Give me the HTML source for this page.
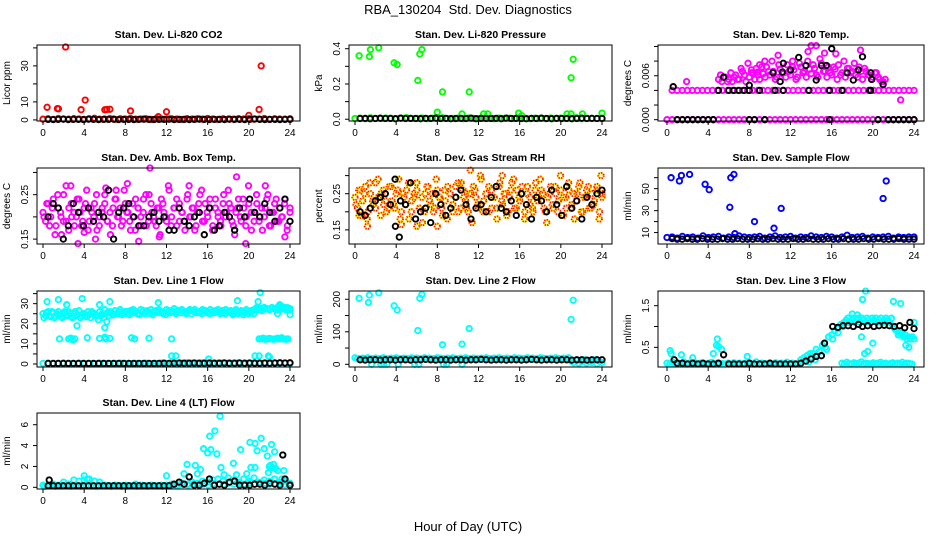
<!DOCTYPE html>
<html><head><meta charset="utf-8"><style>
html,body{margin:0;padding:0;background:#fff;}
svg{display:block;font-family:"Liberation Sans",sans-serif;}
.pt{fill:none;stroke-width:1.9;}
</style></head><body>
<svg id="chart" width="936" height="540" viewBox="0 0 936 540" xmlns="http://www.w3.org/2000/svg">
<text x="468" y="14" text-anchor="middle" font-size="13" style="white-space:pre" xml:space="preserve">RBA_130204  Std. Dev. Diagnostics</text>
<text x="468" y="531" text-anchor="middle" font-size="13">Hour of Day (UTC)</text>
</svg>
<script>
// ---- data ----
const xTicks = [0,4,8,12,16,20,24];
// P1 CO2
const co2Red = [0.4,0.6,0.3,0.8,0.5,0.4,0.7,0.5,0.3,0.6,0.9,0.4,0.5,0.7,0.3,0.6,0.5,0.8,0.4,0.5,0.6,0.3,0.7,0.5,0.4,0.6,0.5,0.3,0.7,0.5,0.6,0.4,0.8,0.5,0.3,0.6,0.5,0.4,0.7,0.5,0.6,0.4,0.5,0.8,0.3,0.6,0.5,0.4,0.6];
const co2Black = [0.3,0.2,0.3,0.4,0.2,0.3,0.3,0.2,0.4,0.3,0.2,0.3,0.3,0.4,0.2,0.3,0.3,0.2,0.3,0.4,0.3,0.2,0.3,0.3,0.4,0.2,0.3,0.3,0.2,0.3,0.4,0.3,0.2,0.3,0.3,0.2,0.4,0.3,0.3,0.2,0.3,0.5,0.3,0.2,0.3,0.3,0.2,0.3,0.3];
const co2OutH = [0.4,1.4,1.5,2.2,3.7,4.1,6.0,6.2,6.5,8.5,11.2,12.0,20.0,21.0,21.2];
const co2OutV = [7,6.3,6.2,40.5,5.7,11,5.6,5.8,5.9,5,1.8,4.5,2.5,5.8,30];
// P2 Pressure
const presGreen = [0.004,0.006,0.003,0.008,0.005,0.004,0.007,0.005,0.003,0.006,0.009,0.004,0.005,0.007,0.003,0.006,0.005,0.008,0.004,0.005,0.006,0.003,0.007,0.005,0.004,0.006,0.005,0.003,0.007,0.005,0.006,0.004,0.008,0.005,0.003,0.006,0.005,0.004,0.007,0.005,0.006,0.004,0.005,0.008,0.003,0.006,0.005,0.004,0.006];
const presBlack = [0.004,0.005,0.003,0.004,0.006,0.004,0.005,0.003,0.006,0.004,0.005,0.004,0.003,0.005,0.004,0.006,0.004,0.005,0.003,0.004,0.005,0.004,0.006,0.003,0.005,0.004,0.004,0.005,0.003,0.006,0.004,0.005,0.004,0.003,0.005,0.004,0.006,0.004,0.003,0.005,0.004,0.005,0.003,0.004,0.006,0.004,0.005,0.004,0.004];
const presOutH = [0.4,1.4,1.5,2.3,3.8,4.1,6.1,6.3,6.5,8.5,11.1,8.0,10.4,12.5,12.9,15.9,16.2,20.6,21.0,21.2,21.0,22.1,24.0];
const presOutV = [0.36,0.355,0.395,0.405,0.32,0.31,0.22,0.37,0.395,0.155,0.155,0.04,0.03,0.03,0.03,0.035,0.02,0.03,0.235,0.34,0.03,0.03,0.035];
// P3 Li-820 Temp
const tempMagZero = [0,0,0,0,0,0,0,0,0,0,0,0,0,0,0,0,0,0,0,0,0,0,0,0,0,0,0,0,0,0,0,0,0,0,0,0,0,0,0,0,0,0,0,0,0,0,0,0,0];
const tempMagMid = [0.004,0.004,0.004,0.004,0.004,0.004,0.004,0.004,0.004,0.004,0.004,0.004,0.004,0.004,0.004,0.004,0.004,0.004,0.004,0.004,0.004,0.004,0.004,0.004,0.004,0.004,0.004,0.004,0.004,0.004,0.004,0.004,0.004,0.004,0.004,0.004,0.004,0.004,0.004,0.004,0.004,0.004,0.004,0.004,0.004,0.004,0.004,0.004,0.004];
const tempMagCloudA = [0.0055,0.0052,0.0058,0.0055,0.0052,0.0061,0.0055,0.0066,0.0052,0.0058,0.0064,0.0070,0.0055,0.0063,0.0072,0.0061,0.0066,0.0058,0.0069,0.0064,0.0075,0.0061,0.0068,0.0058,0.0072,0.0066,0.0080,0.0063,0.0070,0.0058,0.0077,0.0066,0.0072,0.0061,0.0069,0.0075,0.0064,0.0058,0.0070,0.0066,0.0061,0.0072,0.0055,0.0066,0.0061,0.0058,0.0064,0.0055,0.0052];
const tempMagCloudB = [0.0061,0.0058,0.0052,0.0064,0.0058,0.0055,0.0070,0.0061,0.0077,0.0064,0.0055,0.0061,0.0072,0.0058,0.0066,0.0080,0.0055,0.0075,0.0063,0.0058,0.0066,0.0072,0.0055,0.0077,0.0064,0.0058,0.0069,0.0075,0.0061,0.0083,0.0066,0.0058,0.0064,0.0072,0.0055,0.0061,0.0080,0.0070,0.0064,0.0077,0.0058,0.0066,0.0070,0.0061,0.0055,0.0064,0.0058,0.0052,0.0055];
const tempMagOutH = [1.9,8.2,9.0,9.5,10.8,13.7,14.0,14.5,15.3,18.8,22.7,8.8,12.2,16.4];
const tempMagOutV = [0.0052,0.0068,0.0075,0.0080,0.0088,0.0093,0.0101,0.0101,0.0091,0.0095,0.0027,0.0065,0.0080,0.0090];
const tempBlackH = [1,1.5,2,2.5,3,3.5,4,4.5,8,8.5,9.5,15.8,20.5,21.5,22,22.5,23,23.5,24, 5,6,6.5,7,7.5,8,9,10.5,11.3,13.8,15.8,17,19.7,19.8, 0.6,5.5,8,10.3,11,11.3,11.2,12,12.8,13.5,14.5,15,15.5,16,17.5,18.1,18.6,19,19.8,19.9,21];
const tempBlackV = [0,0,0,0,0,0,0,0,0,0,0,0,0,0,0,0,0,0,0, 0.004,0.004,0.004,0.004,0.004,0.004,0.004,0.004,0.004,0.004,0.004,0.004,0.004,0.004, 0.0045,0.0058,0.0047,0.0064,0.0052,0.0077,0.0065,0.0068,0.0085,0.0074,0.0054,0.0074,0.0074,0.0097,0.0064,0.0054,0.0068,0.0086,0.0064,0.0055,0.0048];
// P4 Amb box temp
const ambMagA = [0.21,0.19,0.23,0.20,0.24,0.18,0.22,0.20,0.25,0.19,0.17,0.23,0.21,0.20,0.24,0.18,0.22,0.26,0.19,0.21,0.23,0.17,0.20,0.22,0.25,0.19,0.21,0.18,0.24,0.20,0.22,0.19,0.23,0.21,0.17,0.20,0.24,0.22,0.18,0.21,0.25,0.19,0.23,0.20,0.18,0.22,0.24,0.21,0.19,0.26,0.20,0.22,0.18,0.23,0.21,0.19,0.24,0.20,0.22,0.17,0.21,0.25,0.19,0.23,0.20,0.22,0.18,0.24,0.21,0.19,0.23,0.20,0.26,0.22,0.18,0.21,0.24,0.19,0.22,0.20,0.23,0.17,0.21,0.25,0.19,0.22,0.20,0.24,0.18,0.21,0.23,0.19,0.22,0.20,0.24,0.18,0.21];
const ambMagB = [0.20,0.23,0.18,0.22,0.16,0.25,0.21,0.19,0.27,0.22,0.20,0.18,0.24,0.21,0.19,0.23,0.17,0.22,0.20,0.25,0.18,0.21,0.23,0.19,0.16,0.22,0.24,0.20,0.18,0.26,0.21,0.19,0.23,0.17,0.22,0.20,0.24,0.18,0.25,0.21,0.19,0.22,0.16,0.23,0.20,0.27,0.18,0.22,0.24,0.19,0.21,0.17,0.25,0.20,0.22,0.18,0.23,0.26,0.19,0.21,0.24,0.17,0.22,0.20,0.18,0.25,0.21,0.23,0.19,0.16,0.22,0.20,0.24,0.18,0.27,0.21,0.19,0.23,0.20,0.17,0.22,0.25,0.18,0.21,0.24,0.19,0.20,0.23,0.17,0.22];
const ambMagOutH = [10.4,2.7,5.1,9.3,18.8,21.6,3.4,19.7,6.1,7.1,8.2,11.3,23.5,14.2,1.8,4.0];
const ambMagOutV = [0.31,0.27,0.15,0.145,0.29,0.27,0.14,0.14,0.265,0.26,0.275,0.155,0.155,0.27,0.16,0.165];
const ambBlack = [0.20,0.23,0.22,0.15,0.18,0.23,0.21,0.18,0.22,0.19,0.21,0.20,0.26,0.15,0.21,0.22,0.23,0.20,0.18,0.18,0.20,0.21,0.19,0.20,0.17,0.17,0.22,0.19,0.18,0.20,0.21,0.16,0.22,0.17,0.18,0.21,0.20,0.17,0.22,0.20,0.24,0.21,0.20,0.23,0.21,0.19,0.22,0.24,0.19];
// P5 RH
const rhA = [0.24,0.21,0.26,0.23,0.27,0.20,0.25,0.22,0.28,0.24,0.19,0.26,0.23,0.21,0.27,0.22,0.25,0.29,0.20,0.24,0.26,0.18,0.23,0.25,0.28,0.21,0.24,0.20,0.27,0.23,0.25,0.21,0.26,0.24,0.19,0.23,0.27,0.25,0.20,0.24,0.28,0.21,0.26,0.23,0.20,0.25,0.27,0.24,0.21,0.29,0.23,0.25,0.20,0.26,0.24,0.21,0.27,0.23,0.25,0.19,0.24,0.28,0.21,0.26,0.23,0.25,0.20,0.27,0.24,0.21,0.26,0.23,0.29,0.25,0.20,0.24,0.27,0.21,0.25,0.23,0.26,0.19,0.24,0.28,0.21,0.25,0.23,0.27,0.20,0.24,0.26,0.21,0.25,0.23,0.27,0.20,0.24];
const rhB = [0.22,0.26,0.19,0.25,0.18,0.28,0.23,0.21,0.29,0.25,0.22,0.20,0.27,0.23,0.21,0.26,0.18,0.25,0.22,0.28,0.20,0.24,0.26,0.21,0.17,0.25,0.27,0.22,0.20,0.29,0.24,0.21,0.26,0.18,0.25,0.22,0.27,0.20,0.28,0.24,0.21,0.25,0.17,0.26,0.22,0.30,0.20,0.25,0.27,0.21,0.24,0.18,0.28,0.22,0.25,0.20,0.26,0.29,0.21,0.24,0.27,0.18,0.25,0.22,0.20,0.28,0.24,0.26,0.21,0.17,0.25,0.22,0.27,0.20,0.30,0.24,0.21,0.26,0.22,0.18,0.25,0.28,0.20,0.24,0.27,0.21,0.22,0.26,0.18,0.25];
const rhOutH = [11.2,14.3,0.4,8.0,6.0,4.5,23.9,1.2];
const rhOutV = [0.315,0.30,0.19,0.16,0.16,0.165,0.30,0.16];
const rhBlack = [0.20,0.19,0.21,0.23,0.24,0.25,0.22,0.16,0.23,0.22,0.28,0.18,0.20,0.21,0.17,0.25,0.22,0.19,0.21,0.24,0.26,0.22,0.18,0.21,0.22,0.20,0.24,0.27,0.21,0.20,0.23,0.19,0.25,0.22,0.18,0.24,0.23,0.20,0.26,0.22,0.19,0.27,0.21,0.23,0.18,0.24,0.22,0.25,0.26];
const rhBlackOutH = [4.3,3.9];
const rhBlackOutV = [0.13,0.29];
// P6 Sample flow
const flowBlue = [5.5,6,5,6.5,5.5,6,5,7,5.5,6,6.5,5,6,5.5,7,6,5.5,6,6.5,5,6,7,5.5,6,6.5,5,6,5.5,7,6,5.5,6.5,6,5,6,7.5,5.5,6,6.5,5,6,5.5,6,6.5,5,6,5.5,6,6];
const flowBlack = [4.5,4,4,4.5,4,4,4.5,4,4,4,4.5,4,4,4.5,4,4,4,4.5,4,4,4.5,4,4,4,4.5,4,4,4.5,4,4,4,4.5,4,4,4.5,4,4,4,4.5,4,4,4.5,4,4,4,4.5,4,4,4];
const flowOutH = [0.4,1.2,1.4,2.2,3.7,4.1,6.1,6.2,6.5,6.6,8.5,10.4,11.1,21.0,21.3];
const flowOutV = [60,57,62,63,54,49,33,60,63,9,20,14,32,41,57];
// P7 Line 1
const l1A = [25,24,26,23.5,25.5,24,26,23.5,25,24.5,26,23.5,25,24,26.5,24,25,23.5,24.5,26,25,24,26,25,27,25.5,26,24.5,26.5,25,27,25.5,26,25,26.5,27,26,25,27,26.5,26,25.5,27,26,26.5,27,26,25.5,27,26.5,26,27.5,26,26.5,27,26,25.5,27,26.5,27,26,25.5,27,26.5,26,27,25.5,26.5,27,26,25.5,27,26,26.5,25,27,26,26.5,25.5,27,26,25.5,27,28,27,26.5,28,27.5,27,28,27.5,27,28.5,27.5,28,27,27.5];
const l1B = [23,25.5,24,26,23,25,24.5,23,26,24,25,23,26,24.5,23,25,24,26,23,25,24,22,24,23,25,24,25.5,24.5,25,26,24.5,25,26,24.5,25.5,26,25,24.5,26,25,26.5,25,24.5,26,25.5,26,25,24.5,26,25.5,26,25,26.5,25.5,26,25,26.5,25,26,25.5,26,25,26.5,25.5,25,26,25.5,26,25,26.5,25,26,25.5,24.5,26,25,25.5,24.5,26,25,26.5,25,27,28,27,28,27.5,27,28,27.5,28,27,28.5,27.5,28,27];
const l1CyanBase = [0.3,0.4,0.2,0.3,0.5,0.3,0.2,0.4,0.3,0.3,0.2,0.4,0.3,0.2,0.3,0.4,0.3,0.2,0.3,0.3,0.4,0.2,0.3,0.5,0.3,0.8,0.3,0.4,0.6,0.5,0.4,0.6,0.5,0.4,0.5,0.6,0.4,0.5,0.6,0.4,0.5,0.6,0.5,0.4,0.5,0.6,0.4,0.5,0.3];
const l1Black = [0.3,0.3,0.3,0.3,0.3,0.3,0.3,0.3,0.3,0.3,0.3,0.3,0.3,0.3,0.3,0.3,0.3,0.3,0.3,0.3,0.3,0.3,0.3,0.4,0.3,0.4,0.5,0.4,0.4,0.5,0.4,0.4,0.5,0.4,0.4,0.5,0.4,0.4,0.5,0.4,0.5,0.4,0.4,0.5,0.4,0.5,0.6,0.5,0.6];
const l1MidH = [1.6,2.5,2.7,2.9,3.1,4.3,5.5,6.0,6.1,6.5,8.6,8.9,10.3,12.5,21.0,21.2,21.4,21.6,21.8,22.0,22.2,22.4,22.6,22.8,23.0,23.2,23.4,23.6,23.8];
const l1MidV = [12.5,12.5,12.8,12,12.5,13,12.7,13.3,12.5,12.7,13,12.5,12.8,12.5,12.5,12.5,12.8,12.3,12.5,12.7,12.5,12.3,12.5,12.8,12.5,13,12.5,12.3,12.5];
const l1OutH = [0.4,1.5,2.3,3.3,3.8,5.5,6.0,6.2,6.5,11.2,18.9,20.9,21.1,12.5,12.9,16.1,20.6,21.0,21.9,22.0,22.8,23.0,23.6,24.0];
const l1OutV = [31,32,29.5,19,32.5,29.5,18,21,31,30.5,31.5,31,35.5,4,4,2.5,4,4,4,3.5,25,29.5,27,24.5];
// P8 Line 2
const l2Cyan = [20,18,17,19,18,20,17,18,19,17,18,20,18,17,19,18,20,17,18,19,18,17,20,18,19,17,18,20,18,19,17,18,20,19,18,17,19,18,20,18,17,19,18,20,17,18,19,18,17,19,18,20,18,17,19,18,20,17,18,19,18,17,20,18,19,17,18,20,18,19,17,18,20,19,18,17,19,18,20,18,17,19,18,20,10,5,12,3,8,14,4,10,6,13,2,9,5];
const l2Black = [14,13,14,14,13,14,14,13,14,14,13,14,14,15,14,13,14,14,13,14,14,13,14,14,15,14,13,14,14,13,14,14,13,14,15,14,13,14,14,13,14,14,13,14,14,13,14,14,14];
const l2OutH = [0.4,1.3,1.4,2.3,3.8,4.1,6.1,6.3,6.5,8.5,10.4,11.1,21.0,21.2,1.6,2.5,2.8,3.1,4.2,5.8,6.2,8.6,8.9,10.4];
const l2OutV = [203,190,213,220,180,167,104,203,215,60,62,110,138,197,0,0,0,0,0,0,0,0,0,0];
// P9 Line 3
const l3CyanLow = [0.12,0.1,0.14,0.1,0.12,0.1,0.15,0.1,0.12,0.1,0.13,0.1,0.12,0.1,0.1,0.12,0.14,0.1,0.12,0.1,0.11,0.1,0.12,0.1,0.13,0.1,0.12,0.1,0.11,0.1,0.12,0.1,0.15,0.1,0.12,0.11,0.1,0.12,0.1,0.13,0.1,0.12,0.1,0.14,0.1,0.12,0.1,0.11,0.12];
const l3CyanRiseH = [13.0,13.3,13.6,13.9,14.2,14.5,14.8,15.1,15.4,15.7,16.0,16.3,16.6,16.9,17.2,17.5,13.8,14.4,15.0,15.5,16.1,16.6,17.1];
const l3CyanRiseV = [0.2,0.25,0.3,0.35,0.35,0.45,0.4,0.55,0.5,0.75,0.8,0.9,0.95,1.05,1.1,1.1,0.15,0.2,0.3,0.45,0.7,0.85,1.0];
const l3CyanHigh = [1.15,1.2,1.1,1.15,1.2,1.1,1.15,1.2,1.1,1.2,1.15,1.1,1.2,1.15,1.1,1.2,1.15,1.2,1.1,1.15,1.2,1.1,1.15,1.2,1.15,1.1,1.2,1.0,0.95,0.9,0.8,0.85,0.8,0.75,0.8,0.7,0.75,0.7,0.75,0.7];
const l3CyanHighLow = [0.12,0.1,0.14,0.11,0.1,0.13,0.1,0.12,0.15,0.1,0.12,0.11,0.1,0.13,0.1,0.12,0.14,0.1,0.12,0.1,0.11,0.13,0.1,0.12,0.1,0.14,0.1,0.12,0.11,0.1];
const l3OutH = [0.3,0.4,1.4,2.5,4.5,4.8,4.9,5.0,5.3,7.8,18.0,18.5,19.0,19.3,18.9,19.2,19.5,20.0,22.0,22.7,22.5,23.2,23.5,24.0];
const l3OutV = [0.42,0.35,0.32,0.25,0.35,0.55,0.7,0.52,0.45,0.28,1.3,1.28,1.65,1.85,0.75,0.35,0.4,0.6,1.6,1.55,0.8,0.55,0.5,1.1];
const l3BlackH = [0.7,1,1.5,2,2.5,3,3.5,4,4.5,5,5.5,6,6.5,7,7.5,8,8.5,9,9.5,10,10.5,11,11.5,12,12.5,13,13.5,14,14.5,15,15.3,16.1,16.6,17.1,17.6,18.1,18.6,19,19.5,20.1,20.6,21.1,21.6,22.1,22.6,23.1,23.6,24];
const l3BlackV = [0.2,0.12,0.12,0.1,0.12,0.1,0.12,0.1,0.1,0.12,0.32,0.1,0.1,0.1,0.1,0.12,0.1,0.1,0.1,0.12,0.1,0.1,0.1,0.1,0.1,0.12,0.17,0.22,0.28,0.3,0.6,1.0,0.98,1.02,1.02,1.0,1.05,1.0,1.02,1.0,1.02,1.03,1.02,1.0,1.02,0.97,1.1,0.95];
// P10 Line 4
const l4Cyan = [0.2,0.15,0.3,0.2,0.5,0.3,0.7,0.6,0.7,0.8,0.6,0.5,0.2,0.15,0.2,0.15,0.2,0.15,0.3,0.2,0.15,0.2,0.15,0.2,0.2,0.3,0.25,0.4,0.3,0.5,0.4,0.6,0.5,0.7,0.8,0.6,0.9,0.7,0.5,0.8,0.6,0.9,0.5,0.7,0.6,0.8,0.5,0.6,0.4];
const l4CyanB = [0.1,0.15,0.1,0.12,0.15,0.1,0.12,0.1,0.15,0.12,0.1,0.15,0.12,0.1,0.15,0.1,0.12,0.15,0.1,0.12,0.1,0.15,0.12,0.1,0.15,0.2,0.15,0.25,0.2,0.3,0.25,0.3,0.2,0.35,0.3,0.25,0.4,0.3,0.35,0.3,0.4,0.3,0.35,0.4,0.3,0.35,0.3,0.25,0.2];
const l4OutH = [4.0,4.3,12.0,14.0,13.7,14.8,15.0,15.3,15.6,16.0,16.2,16.3,16.7,16.9,17.2,17.3,17.6,18.5,18.8,19.2,19.8,20.1,20.2,20.6,20.6,20.8,21.2,21.5,21.8,21.9,22.0,22.2,22.5,22.4,22.6,22.8,23.4,23.2,22.1,22.3];
const l4OutV = [1.1,0.8,1.1,2.2,1.3,2.1,1.3,1.7,3.7,3.3,4.9,3.6,5.4,3.2,6.8,1.9,1.2,2.3,1.2,3.6,1.3,4.3,1.9,4.2,1.9,3.5,4.7,3.7,3.0,1.4,2.0,4.1,3.4,2.2,1.8,1.6,1.6,0.8,2.1,1.9];
const l4Black = [0.15,0.15,0.15,0.15,0.15,0.15,0.15,0.15,0.15,0.15,0.15,0.15,0.15,0.15,0.15,0.15,0.15,0.15,0.15,0.15,0.15,0.15,0.15,0.15,0.15,0.3,0.5,0.3,1.0,0.2,0.2,0.4,0.8,0.2,0.3,0.2,0.5,0.6,0.2,0.2,0.2,0.3,0.3,0.2,0.4,0.3,0.2,0.8,0.2];
const l4BlackOutH = [0.6,23.3,24];
const l4BlackOutV = [0.7,3.1,0.2];

// ---- layout ----
const NS = 'http://www.w3.org/2000/svg';
const svg = document.getElementById('chart');
const cols = [{l:37,r:300,x0:43,x24:290},{l:349,r:612,x0:355,x24:602},{l:658,r:924,x0:667,x24:914}];
const rows = [45,168,291,413];
const BH = 76;
const CYAN='#00ffff', MAG='#ff00ff', BLK='#000000';
function el(tag, attrs, parent){const e=document.createElementNS(NS,tag);for(const k in attrs)e.setAttribute(k,attrs[k]);(parent||svg).appendChild(e);return e;}
function spread(vals,h0,h1){return vals.map((v,i)=>h0+(vals.length>1?i*(h1-h0)/(vals.length-1):0));}

function panel(o){
  const c=cols[o.col], top=rows[o.row], bot=top+BH;
  const g=el('g',{});
  
  
  const xs=h=>c.x0+(h/24)*(c.x24-c.x0);
  const ys=v=>bot-(v-o.ymin)/(o.ymax-o.ymin)*BH;
  const t=el('text',{x:(c.l+c.r)/2,y:top-7,'text-anchor':'middle','font-size':'10.5','font-weight':'bold'},g);
  t.textContent=o.title;
  
  
  const pts=el('g',{},g);
  
  
  o.series.forEach(s=>{
    s.h.forEach((h,i)=>{
      const v=s.v[i];
      if(v===null||v===undefined)return;
      const cx=xs(h).toFixed(1), cy=ys(v).toFixed(1);
      const p=el('circle',{cx,cy,r:2.7,class:'pt',stroke:s.color},pts);
      
      
      if(s.dots){const q=el('circle',{cx,cy,r:2.7,class:'pt',stroke:'#ff0000','stroke-dasharray':'1 1.5'},pts);
        
        }
    });
  });
  const box=el('rect',{x:c.l,y:top,width:c.r-c.l,height:BH,fill:'none',stroke:'#000','stroke-width':1},g);
  
  
  const xa=el('g',{},g);
  
  
  xTicks.forEach(tk=>{
    const x=xs(tk);
    el('line',{x1:x,x2:x,y1:bot,y2:bot+4,stroke:'#000'},xa);
    const lb=el('text',{x:x,y:bot+15,'text-anchor':'middle','font-size':'10'},xa);
    lb.textContent=tk;
  });
  const ya=el('g',{},g);
  
  
  o.yTicks.forEach(tk=>{
    const y=ys(tk);
    el('line',{x1:c.l-4,x2:c.l,y1:y,y2:y,stroke:'#000'},ya);
  });
  o.yLabels.forEach(tk=>{
    const y=ys(tk);
    const lb=el('text',{x:c.l-9,y:y,'text-anchor':'middle','font-size':'10',transform:`rotate(-90 ${c.l-9} ${y})`},ya);
    lb.textContent=o.fmt?o.fmt(tk):tk;
  });
  const yt=el('text',{x:c.l-27,y:top+BH/2,'text-anchor':'middle','font-size':'10',transform:`rotate(-90 ${c.l-27} ${top+BH/2})`},g);
  yt.textContent=o.ylab;
  
  
}

panel({name:'panel-co2',col:0,row:0,title:'Stan. Dev. Li-820 CO2',ylab:'Licor ppm',ymin:-0.6,ymax:41.6,yTicks:[0,10,20,30,40],yLabels:[0,10,30],
  series:[{color:'#ff0000',h:spread(co2Red,0,24),v:co2Red},{color:'#ff0000',h:co2OutH,v:co2OutV},{color:BLK,h:spread(co2Black,0.5,24),v:co2Black}]});
panel({name:'panel-pressure',col:1,row:0,title:'Stan. Dev. Li-820 Pressure',ylab:'kPa',ymin:-0.01,ymax:0.421,yTicks:[0,0.1,0.2,0.3,0.4],yLabels:[0,0.2,0.4],fmt:v=>v.toFixed(1),
  series:[{color:'#00ff00',h:spread(presGreen,0,24),v:presGreen},{color:'#00ff00',h:presOutH,v:presOutV},{color:BLK,h:spread(presBlack,0.5,24),v:presBlack}]});
panel({name:'panel-li820-temp',col:2,row:0,title:'Stan. Dev. Li-820 Temp.',ylab:'degrees C',ymin:-0.00018,ymax:0.0102,yTicks:[0,0.002,0.004,0.006,0.008,0.010],yLabels:[0,0.006],fmt:v=>v.toFixed(3),
  series:[{color:MAG,h:spread(tempMagZero,0,24),v:tempMagZero},{color:MAG,h:spread(tempMagMid,0.5,24),v:tempMagMid},
    {color:MAG,h:spread(tempMagCloudA,5,21),v:tempMagCloudA},{color:MAG,h:spread(tempMagCloudB,5.2,21.2),v:tempMagCloudB},{color:MAG,h:tempMagOutH,v:tempMagOutV},
    {color:BLK,h:tempBlackH,v:tempBlackV}]});
panel({name:'panel-amb-box-temp',col:0,row:1,title:'Stan. Dev. Amb. Box Temp.',ylab:'degrees C',ymin:0.139,ymax:0.31,yTicks:[0.15,0.2,0.25,0.3],yLabels:[0.15,0.25],fmt:v=>v.toFixed(2),
  series:[{color:MAG,h:spread(ambMagA,0,24),v:ambMagA},{color:MAG,h:spread(ambMagB,0.1,24),v:ambMagB},{color:MAG,h:ambMagOutH,v:ambMagOutV},{color:BLK,h:spread(ambBlack,0.5,24),v:ambBlack}]});
panel({name:'panel-gas-rh',col:1,row:1,title:'Stan. Dev. Gas Stream RH',ylab:'percent',ymin:0.111,ymax:0.321,yTicks:[0.15,0.2,0.25,0.3],yLabels:[0.15,0.25],fmt:v=>v.toFixed(2),
  series:[{color:'#ffdd00',dots:true,h:spread(rhA,0,24),v:rhA},{color:'#ffdd00',dots:true,h:spread(rhB,0.1,24),v:rhB},{color:'#ffdd00',dots:true,h:rhOutH,v:rhOutV},
    {color:BLK,h:spread(rhBlack,0.5,24),v:rhBlack},{color:BLK,h:rhBlackOutH,v:rhBlackOutV}]});
panel({name:'panel-sample-flow',col:2,row:1,title:'Stan. Dev. Sample Flow',ylab:'ml/min',ymin:-0.4,ymax:68.8,yTicks:[10,20,30,40,50,60],yLabels:[10,30,50],
  series:[{color:'#0000ff',h:spread(flowBlue,0,24),v:flowBlue},{color:'#0000ff',h:flowOutH,v:flowOutV},{color:BLK,h:spread(flowBlack,0.5,24),v:flowBlack}]});
panel({name:'panel-line1-flow',col:0,row:2,title:'Stan. Dev. Line 1 Flow',ylab:'ml/min',ymin:-1.5,ymax:36.3,yTicks:[0,5,10,15,20,25,30,35],yLabels:[0,10,20,30],
  series:[{color:CYAN,h:spread(l1A,0,24),v:l1A},{color:CYAN,h:spread(l1B,0.1,24),v:l1B},{color:CYAN,h:spread(l1CyanBase,0,24),v:l1CyanBase},{color:CYAN,h:l1MidH,v:l1MidV},{color:CYAN,h:l1OutH,v:l1OutV},{color:BLK,h:spread(l1Black,0.5,24),v:l1Black}]});
panel({name:'panel-line2-flow',col:1,row:2,title:'Stan. Dev. Line 2 Flow',ylab:'ml/min',ymin:-8.3,ymax:225.5,yTicks:[0,50,100,150,200],yLabels:[0,100,200],
  series:[{color:CYAN,h:spread(l2Cyan,0,24),v:l2Cyan},{color:CYAN,h:l2OutH,v:l2OutV},{color:BLK,h:spread(l2Black,0.5,24),v:l2Black}]});
panel({name:'panel-line3-flow',col:2,row:2,title:'Stan. Dev. Line 3 Flow',ylab:'ml/min',ymin:0.028,ymax:1.853,yTicks:[0.5,1.0,1.5],yLabels:[0.5,1.5],fmt:v=>v.toFixed(1),
  series:[{color:CYAN,h:spread(l3CyanLow,0,13),v:l3CyanLow},{color:CYAN,h:l3CyanRiseH,v:l3CyanRiseV},{color:CYAN,h:spread(l3CyanHigh,17.4,24),v:l3CyanHigh},{color:CYAN,h:spread(l3CyanHighLow,17,23.8),v:l3CyanHighLow},{color:CYAN,h:l3OutH,v:l3OutV},{color:BLK,h:l3BlackH,v:l3BlackV}]});
panel({name:'panel-line4-flow',col:0,row:3,title:'Stan. Dev. Line 4 (LT) Flow',ylab:'ml/min',ymin:-0.16,ymax:7.12,yTicks:[0,2,4,6],yLabels:[0,2,4,6],
  series:[{color:CYAN,h:spread(l4Cyan,0,24),v:l4Cyan},{color:CYAN,h:spread(l4CyanB,0.2,24),v:l4CyanB},{color:CYAN,h:l4OutH,v:l4OutV},{color:BLK,h:spread(l4Black,0.5,24),v:l4Black},{color:BLK,h:l4BlackOutH,v:l4BlackOutV}]});
</script>
</body></html>
